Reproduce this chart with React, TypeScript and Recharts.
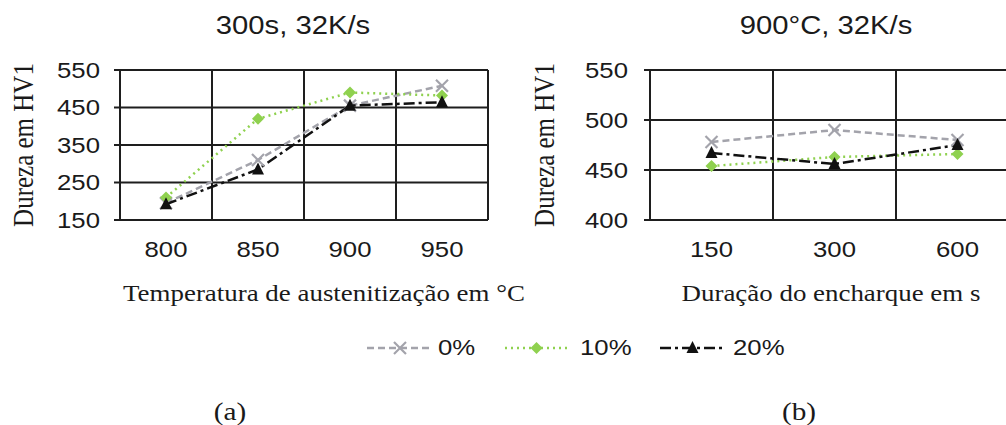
import React from "react";
import { Line, LineChart, ReferenceLine, XAxis, YAxis } from "recharts";

// (a) hardness vs austenitizing temperature, 300 s, 32 K/s
const TEMPS = ["800", "850", "900", "950"];
const HV_0_TEMP = [195, 310, 455, 508];
const HV_10_TEMP = [210, 420, 490, 482];
const HV_20_TEMP = [192, 285, 455, 464];
const TEMP_Y_TICKS = [150, 200, 250, 300, 350, 400, 450, 500, 550];
const TEMP_Y_LABELS = [150, 250, 350, 450, 550];

// (b) hardness vs soak duration, 900 °C, 32 K/s
const SOAK_TIMES = ["150", "300", "600"];
const HV_0_SOAK = [478, 490, 480];
const HV_10_SOAK = [454, 463, 466];
const HV_20_SOAK = [467, 456, 475];
const SOAK_Y_TICKS = [400, 450, 500, 550];

const SANS = '"Liberation Sans", Arial, sans-serif';
const SERIF = '"Liberation Serif", "Times New Roman", serif';
const STRETCH = 1.17; // the source picture is stretched horizontally
const GRID = "#1e1e1e";
const INK = "#1a1a1a";

const SERIES = [
  { key: "p0", name: "0%", color: "#a3a3ab", dash: "7 4", marker: "x" },
  { key: "p10", name: "10%", color: "#8fd14f", dash: "2 4", marker: "diamond" },
  { key: "p20", name: "20%", color: "#111111", dash: "11 4 3 4", marker: "triangle" },
];

function buildRows(cats: string[], s0: number[], s10: number[], s20: number[]) {
  return cats.map((label, i) => ({ i, label, p0: s0[i], p10: s10[i], p20: s20[i] }));
}

const tempRows = buildRows(TEMPS, HV_0_TEMP, HV_10_TEMP, HV_20_TEMP);
const soakRows = buildRows(SOAK_TIMES, HV_0_SOAK, HV_10_SOAK, HV_20_SOAK);

function Marker({ kind, cx, cy, color }: { kind: string; cx: number; cy: number; color: string }) {
  if (kind === "x") {
    return (
      <g stroke={color} strokeWidth={2.2}>
        <line x1={cx - 6} y1={cy - 6} x2={cx + 6} y2={cy + 6} />
        <line x1={cx - 6} y1={cy + 6} x2={cx + 6} y2={cy - 6} />
      </g>
    );
  }
  if (kind === "diamond") {
    return <path d={`M${cx},${cy - 6}L${cx + 6},${cy}L${cx},${cy + 6}L${cx - 6},${cy}Z`} fill={color} />;
  }
  return <path d={`M${cx},${cy - 7}L${cx + 6},${cy + 5}L${cx - 6},${cy + 5}Z`} fill={color} />;
}

function Txt({
  x,
  y,
  font,
  size,
  rotate,
  left,
  children,
}: {
  x: number;
  y: number;
  font: string;
  size: number;
  rotate?: boolean;
  left?: boolean;
  children: React.ReactNode;
}) {
  const transform = left
    ? `translateY(-50%) scale(${STRETCH},1)`
    : `translate(-50%,-50%) scale(${STRETCH},1)${rotate ? " rotate(-90deg)" : ""}`;
  return (
    <div
      style={{
        position: "absolute",
        left: x,
        top: y,
        transform,
        transformOrigin: left ? "left center" : "center",
        fontFamily: font,
        fontSize: size,
        lineHeight: 1,
        whiteSpace: "nowrap",
        color: INK,
      }}
    >
      {children}
    </div>
  );
}

function catTick(labels: string[]) {
  return (p: any) => (
    <text
      x={0}
      y={0}
      transform={`translate(${p.x},${p.y}) scale(${STRETCH},1)`}
      textAnchor="middle"
      dominantBaseline="central"
      fontFamily={SANS}
      fontSize={22}
      fill={INK}
    >
      {labels[p.payload.value]}
    </text>
  );
}

function valueTick(shown: number[]) {
  return (p: any) =>
    shown.includes(p.payload.value) ? (
      <text
        x={0}
        y={0}
        transform={`translate(${p.x},${p.y}) scale(${STRETCH},1)`}
        textAnchor="end"
        dominantBaseline="central"
        fontFamily={SANS}
        fontSize={22}
        fill={INK}
      >
        {p.payload.value}
      </text>
    ) : (
      <g />
    );
}

function Panel({
  rows,
  cats,
  yDomain,
  yTicks,
  yLabels,
  hLines,
  width,
  marginLeft,
  marginRight,
  tickMarginY,
}: {
  rows: any[];
  cats: string[];
  yDomain: [number, number];
  yTicks: number[];
  yLabels: number[];
  hLines: number[];
  width: number;
  marginLeft: number;
  marginRight: number;
  tickMarginY: number;
}) {
  const n = cats.length;
  const vLines = cats.map((_, i) => i + 0.5);
  return (
    <LineChart
      width={width}
      height={270}
      data={rows}
      margin={{ top: 70, right: marginRight, bottom: 0, left: marginLeft }}
    >
      <XAxis
        type="number"
        dataKey="i"
        domain={[-0.5, n - 0.5]}
        ticks={cats.map((_, i) => i)}
        height={50}
        tickSize={0}
        tickMargin={29}
        tickLine={false}
        axisLine={{ stroke: GRID, strokeWidth: 2 }}
        tick={catTick(cats)}
      />
      <YAxis
        type="number"
        domain={yDomain}
        ticks={yTicks}
        width={60}
        tickSize={6}
        tickMargin={tickMarginY}
        tickLine={{ stroke: GRID, strokeWidth: 2 }}
        axisLine={{ stroke: GRID, strokeWidth: 2 }}
        tick={valueTick(yLabels)}
      />
      {hLines.map((v) => (
        <ReferenceLine key={`h${v}`} y={v} stroke={GRID} strokeWidth={2} />
      ))}
      {vLines.map((v) => (
        <ReferenceLine key={`v${v}`} x={v} stroke={GRID} strokeWidth={2} />
      ))}
      {SERIES.map((s) => (
        <Line
          key={s.key}
          dataKey={s.key}
          name={s.name}
          type="linear"
          stroke={s.color}
          strokeWidth={2.5}
          strokeDasharray={s.dash}
          isAnimationActive={false}
          dot={(p: any) => (
            <Marker key={`${s.key}-${p.index}`} kind={s.marker} cx={p.cx} cy={p.cy} color={s.color} />
          )}
          activeDot={false}
        />
      ))}
    </LineChart>
  );
}

function LegendRow() {
  const items = [
    { s: SERIES[0], x1: 367, x2: 433, textX: 438 },
    { s: SERIES[1], x1: 505, x2: 568, textX: 580 },
    { s: SERIES[2], x1: 660, x2: 725, textX: 733 },
  ];
  return (
    <>
      <svg width={1006} height={30} style={{ position: "absolute", left: 0, top: 333 }}>
        {items.map(({ s, x1, x2 }) => (
          <g key={s.key}>
            <line x1={x1} y1={15} x2={x2} y2={15} stroke={s.color} strokeWidth={2.5} strokeDasharray={s.dash} />
            <Marker kind={s.marker} cx={(x1 + x2) / 2} cy={15} color={s.color} />
          </g>
        ))}
      </svg>
      {items.map(({ s, textX }) => (
        <Txt key={s.key} x={textX} y={348} font={SANS} size={22} left>
          {s.name}
        </Txt>
      ))}
    </>
  );
}

export default function App() {
  return (
    <div
      style={{
        position: "absolute",
        left: 0,
        top: 0,
        width: 1006,
        height: 425,
        overflow: "hidden",
        background: "#fff",
      }}
    >
      <div style={{ position: "absolute", left: 0, top: 0 }}>
        <Panel
          rows={tempRows}
          cats={TEMPS}
          yDomain={[150, 550]}
          yTicks={TEMP_Y_TICKS}
          yLabels={TEMP_Y_LABELS}
          hLines={[250, 350, 450, 550]}
          width={500}
          marginLeft={60}
          marginRight={12}
          tickMarginY={14}
        />
      </div>
      <div style={{ position: "absolute", left: 500, top: 0 }}>
        <Panel
          rows={soakRows}
          cats={SOAK_TIMES}
          yDomain={[400, 550]}
          yTicks={SOAK_Y_TICKS}
          yLabels={SOAK_Y_TICKS}
          hLines={[450, 500, 550]}
          width={540}
          marginLeft={90}
          marginRight={21}
          tickMarginY={16}
        />
      </div>

      <Txt x={293} y={25} font={SANS} size={25}>300s, 32K/s</Txt>
      <Txt x={826} y={25} font={SANS} size={25}>900°C, 32K/s</Txt>

      <Txt x={23} y={145} font={SERIF} size={25} rotate>Dureza em HV1</Txt>
      <Txt x={544} y={145} font={SERIF} size={25} rotate>Dureza em HV1</Txt>

      <Txt x={324} y={293} font={SERIF} size={23}>Temperatura de austenitização em °C</Txt>
      <Txt x={831} y={293} font={SERIF} size={23}>Duração do encharque em s</Txt>

      <LegendRow />

      <Txt x={230} y={411} font={SERIF} size={25}>(a)</Txt>
      <Txt x={799} y={411} font={SERIF} size={25}>(b)</Txt>
    </div>
  );
}
